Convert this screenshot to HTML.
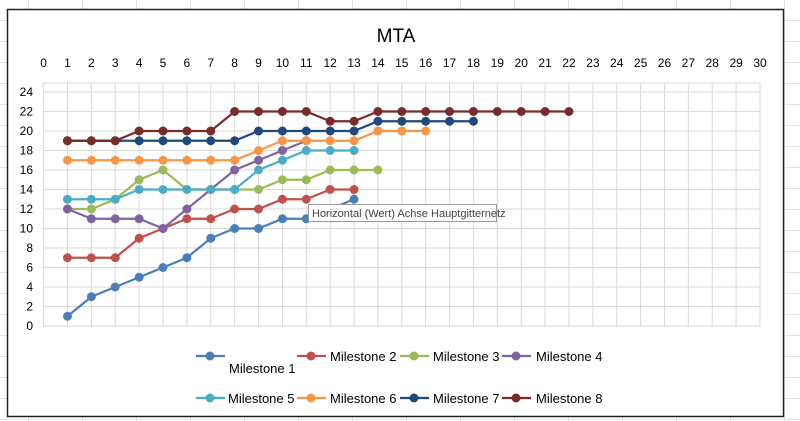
<!DOCTYPE html>
<html><head><meta charset="utf-8"><style>
html,body{margin:0;padding:0;background:#fff;}
svg{display:block;font-family:"Liberation Sans",sans-serif;}
</style></head><body>
<svg id="s" width="800" height="421" xmlns="http://www.w3.org/2000/svg">
<rect x="0" y="0" width="800" height="421" fill="#fff"/>
<g id="bg" stroke="#e3e3e3" stroke-width="1"></g>
<rect x="7.5" y="9.5" width="776" height="407" fill="#fff" stroke="#222" stroke-width="1.5"/>
<text x="396" y="42" font-size="19" text-anchor="middle" fill="#000">MTA</text>
<g id="grid" stroke="#d9d9d9" stroke-width="1"></g>
<g id="labels" font-size="12" fill="#000"></g>
<g id="series"></g>
<g id="legend" font-size="13" fill="#000"></g>
<rect x="308.5" y="204.5" width="188" height="17" fill="#fff" stroke="#999" stroke-width="1"/>
<text x="312" y="217" font-size="11" fill="#444">Horizontal (Wert) Achse Hauptgitternetz</text>
</svg>
<script>
const NS="http://www.w3.org/2000/svg";
function el(p,t,a,txt){const e=document.createElementNS(NS,t);for(const k in a)e.setAttribute(k,a[k]);if(txt!==undefined)e.textContent=txt;p.appendChild(e);return e;}
const bg=document.getElementById('bg');
for(let x=28;x<800;x+=54)el(bg,'line',{x1:x+.5,y1:0,x2:x+.5,y2:421});
for(let y=20;y<421;y+=21)el(bg,'line',{x1:0,y1:y+.5,x2:800,y2:y+.5});
const X=v=>43.6+v*23.88, Y=v=>326-v*9.75;
const g=document.getElementById('grid'), L=document.getElementById('labels');
for(let i=0;i<=30;i++){el(g,'line',{x1:X(i),y1:83,x2:X(i),y2:327});el(L,'text',{x:X(i),y:67,'text-anchor':'middle'},i);}
for(let j=0;j<=24;j+=2){const y=Y(j);el(g,'line',{x1:43.6,y1:y,x2:X(30),y2:y});}
el(g,'line',{x1:43.6,y1:83,x2:X(30),y2:83});
for(let j=0;j<=24;j+=2)el(L,'text',{x:33,y:Y(j)+4,'text-anchor':'end'},j);
const S=[
['#4a7ebb',[1,3,4,5,6,7,9,10,10,11,11,12,13]],
['#c0504d',[7,7,7,9,10,11,11,12,12,13,13,14,14]],
['#9bbb59',[12,12,13,15,16,14,14,14,14,15,15,16,16,16]],
['#8064a2',[12,11,11,11,10,12,14,16,17,18,19]],
['#4bacc6',[13,13,13,14,14,14,14,14,16,17,18,18,18]],
['#f79646',[17,17,17,17,17,17,17,17,18,19,19,19,19,20,20,20]],
['#1f497d',[19,19,19,19,19,19,19,19,20,20,20,20,20,21,21,21,21,21]],
['#772c2a',[19,19,19,20,20,20,20,22,22,22,22,21,21,22,22,22,22,22,22,22,22,22]]];
const sg=document.getElementById('series');
S.forEach(([c,d])=>{el(sg,'polyline',{points:d.map((v,i)=>X(i+1)+','+Y(v)).join(' '),fill:'none',stroke:c,'stroke-width':2.2});
d.forEach((v,i)=>el(sg,'circle',{cx:X(i+1),cy:Y(v),r:4.5,fill:c}));});
const lg=document.getElementById('legend');
const LE=[[196,356,229,373],[297,356,330,361],[400,356,433,361],[502,356,536,361],[196,398,228,403],[297,398,330,403],[400,398,433,403],[502,398,536,403]];
LE.forEach(([lx,ly,tx,ty],i)=>{const c=S[i][0];el(lg,'line',{x1:lx,y1:ly,x2:lx+29,y2:ly,stroke:c,'stroke-width':2.2});el(lg,'circle',{cx:lx+14,cy:ly,r:4.5,fill:c});el(lg,'text',{x:tx,y:ty},'Milestone '+(i+1));});
</script>
</body></html>
